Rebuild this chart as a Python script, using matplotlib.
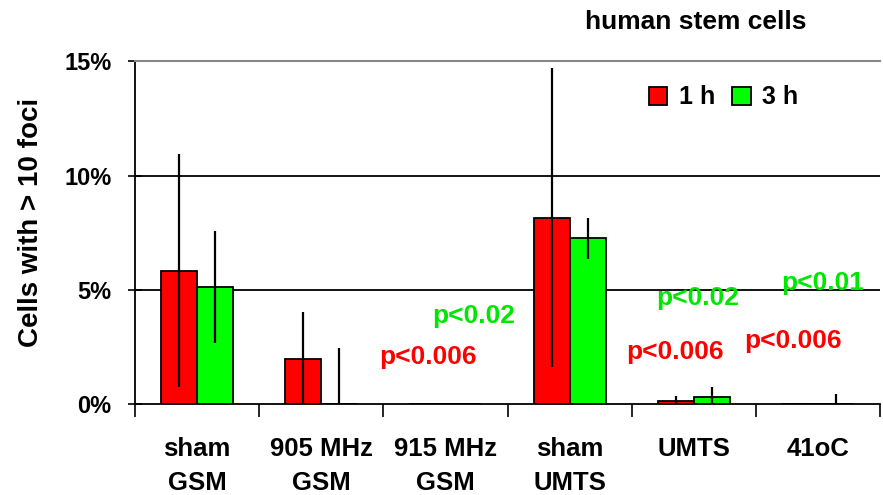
import numpy as np
from matplotlib import pyplot as plt

# data
groups = ['sham\nGSM', '905 MHz\nGSM', '915 MHz\nGSM', 'sham\nUMTS', 'UMTS', '41oC']
val_1h = [5.83, 1.97, 0.0, 8.16, 0.13, 0.0]
val_3h = [5.13, 0.0, 0.0, 7.25, 0.32, 0.0]
err_1h = [5.1, 2.05, 0.0, 6.55, 0.22, 0.05]
err_3h = [2.45, 2.45, 0.0, 0.9, 0.42, 0.44]
yticks = [0, 5, 10, 15]
series = ['1 h', '3 h']
p_texts = ['p<0.02', 'p<0.006', 'p<0.02', 'p<0.006', 'p<0.01', 'p<0.006']
p_colors = ['#00e600', '#ff0000', '#00e600', '#ff0000', '#00e600', '#ff0000']

plt.rcParams['font.family'] = ['Liberation Sans', 'DejaVu Sans']
plt.rcParams['font.weight'] = 'bold'

fig = plt.figure(figsize=(8.83, 4.95), dpi=100)
ax = fig.add_axes([0.1529, 0.1838, 0.8437, 0.692])

x = np.arange(len(groups))
w = 0.29


def lower(v, e):
    # error bars don't go below zero
    return [min(a, b) for a, b in zip(v, e)]


for vals, errs, off, col, lab in [(val_1h, err_1h, -w / 2, '#ff0000', series[0]),
                                  (val_3h, err_3h, w / 2, '#00ff00', series[1])]:
    ax.bar(x + off, vals, w, color=col, edgecolor='black', linewidth=1.3, label=lab, zorder=3)
    ax.errorbar(x + off, vals, yerr=[lower(vals, errs), errs], fmt='none',
                ecolor='black', elinewidth=1.6, capsize=0, zorder=4)

for yv in [5, 10]:
    ax.axhline(yv, color='black', lw=1.3, zorder=1)

ax.set_xlim(-0.5, len(groups) - 0.5)
ax.set_ylim(0, 15)
ax.set_yticks(yticks)
ax.set_yticklabels([f'{t}%' for t in yticks], fontsize=17, fontweight='bold')
ax.tick_params(axis='y', direction='inout', length=10, width=1.2, pad=12)

ax.set_xticks(x)
ax.set_xticklabels(groups, fontsize=18.5, fontweight='bold', linespacing=1.5)
ax.set_xticks(np.arange(-0.5, len(groups)), minor=True)
ax.tick_params(axis='x', which='major', length=0, pad=24)
ax.tick_params(axis='x', which='minor', direction='out', length=9, width=1.2)

ax.spines['right'].set_visible(False)
ax.spines['top'].set_color('#888888')
ax.spines['top'].set_linewidth(1.5)
ax.spines['left'].set_linewidth(1.3)
ax.spines['bottom'].set_linewidth(1.3)

ax.set_ylabel('Cells with > 10 foci', fontsize=20, fontweight='bold')
ax.yaxis.set_label_coords(-0.122, 0.53)

# p-value notes
p_pos = [(2.23, 3.85), (1.86, 2.05), (4.03, 4.63), (3.85, 2.27), (5.04, 5.29), (4.8, 2.75)]
for t, c, (px, py) in zip(p_texts, p_colors, p_pos):
    ax.text(px, py, t, color=c, fontsize=19, fontweight='bold', ha='center', va='center', zorder=5)

ax.legend(loc='center', bbox_to_anchor=(0.79, 0.895), ncol=2, frameon=False,
          handlelength=0.75, handleheight=0.75, handletextpad=0.45,
          columnspacing=0.7, prop={'weight': 'bold', 'size': 18})

fig.text(696 / 883, 1 - 22 / 495, 'human stem cells', fontsize=19, fontweight='bold',
         ha='center', va='center')

fig.savefig('out.png', dpi=100)
